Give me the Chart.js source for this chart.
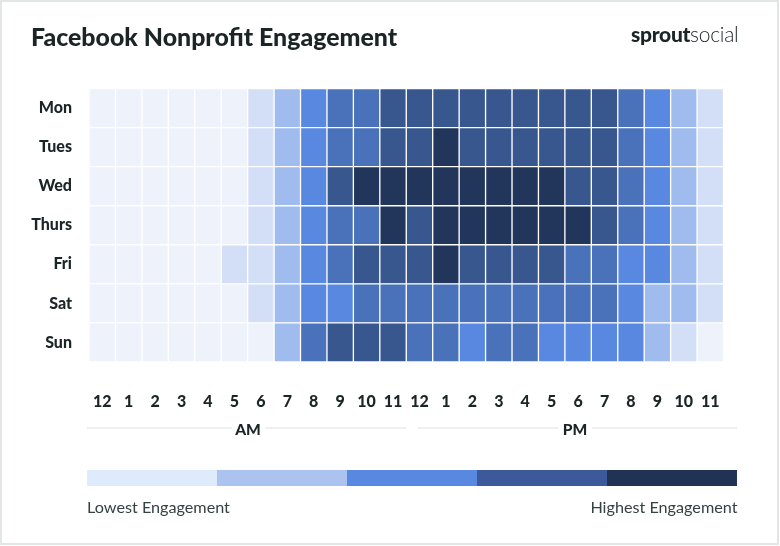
<!DOCTYPE html>
<html>
<head>
<meta charset="utf-8">
<title>Facebook Nonprofit Engagement</title>
<script src="https://cdn.jsdelivr.net/npm/chart.js@4/dist/chart.umd.min.js"></script>
<style>
  html, body { margin: 0; padding: 0; background: #fff; }
  body { width: 780px; height: 546px; position: relative; overflow: hidden; font-family: Lato, sans-serif; color: #1b2526; }
  #frame { position: absolute; left: 0; top: 0; width: 775px; height: 541px; border: 2.5px solid #e2e7e6; }
  canvas { position: absolute; left: 0; top: 0; }
  .txt { position: absolute; white-space: nowrap; }
  #title { left: 31px; top: 20px; font-size: 24.9px; font-weight: 900; line-height: 32px; }
  #logo { left: 631px; top: 22px; font-size: 21px; line-height: 24px; letter-spacing: -0.3px; }
  #logo b { font-weight: 900; }
  #logo span { font-weight: 300; }
  .rule { position: absolute; top: 427px; height: 2px; background: #eff0f1; }
  .half { top: 420px; font-size: 15.5px; font-weight: 900; line-height: 18px; transform: translateX(-50%); }
  #scale { position: absolute; left: 87px; top: 470px; width: 650.5px; height: 16px; display: flex; }
  #scale div { flex: 1; }
  .end { top: 497px; font-size: 16.2px; line-height: 19px; color: #364141; }
</style>
</head>
<body>
<div id="frame"></div>
<canvas id="heatmap" width="780" height="546"></canvas>
<div class="txt" id="title">Facebook Nonprofit Engagement</div>
<div class="txt" id="logo"><b>sprout</b><span>social</span></div>
<div class="rule" style="left:87px;width:145px"></div>
<div class="rule" style="left:265px;width:141px"></div>
<div class="rule" style="left:418px;width:140px"></div>
<div class="rule" style="left:592px;width:145px"></div>
<div class="txt half" style="left:248px">AM</div>
<div class="txt half" style="left:575px">PM</div>
<div id="scale"></div>
<div class="txt end" style="left:87px">Lowest Engagement</div>
<div class="txt end" style="right:42.5px">Highest Engagement</div>
<script>
const days = ['Mon', 'Tues', 'Wed', 'Thurs', 'Fri', 'Sat', 'Sun'];
const hours = ['12', '1', '2', '3', '4', '5', '6', '7', '8', '9', '10', '11',
               '12', '1', '2', '3', '4', '5', '6', '7', '8', '9', '10', '11'];

// engagement level per hour, 0 = lowest, 6 = highest
const mon   = [0,0,0,0,0,0,1,2,3,4,4,5,5,5,5,5,5,5,5,5,4,3,2,1];
const tues  = [0,0,0,0,0,0,1,2,3,4,4,5,5,6,5,5,5,5,5,5,4,3,2,1];
const wed   = [0,0,0,0,0,0,1,2,3,5,6,6,6,6,6,6,6,6,5,5,4,3,2,1];
const thurs = [0,0,0,0,0,0,1,2,3,4,4,6,5,6,6,6,6,6,6,5,4,3,2,1];
const fri   = [0,0,0,0,0,1,1,2,3,4,5,5,5,6,5,5,5,5,4,4,3,3,2,1];
const sat   = [0,0,0,0,0,0,1,2,3,3,4,4,4,4,4,4,4,4,4,4,3,2,2,1];
const sun   = [0,0,0,0,0,0,0,2,4,5,5,5,4,4,3,4,4,3,3,3,3,2,1,0];
const levels = [mon, tues, wed, thurs, fri, sat, sun];

const levelColors = ['#edf2fb', '#d3dff7', '#a0bbee', '#5888df', '#4a72ba', '#38578f', '#21365a'];
const scaleColors = ['#ddebfb', '#abc3ee', '#5888df', '#3c5a9a', '#213355'];

scaleColors.forEach(function (c) {
    const seg = document.createElement('div');
    seg.style.background = c;
    document.getElementById('scale').appendChild(seg);
});

// one stacked dataset per hour, every cell is one hour wide
const datasets = hours.map(function (h, i) {
    return {
        label: h,
        data: days.map(() => 1),
        backgroundColor: levels.map(row => levelColors[row[i]]),
        borderColor: '#ffffff',
        borderWidth: 1,
        borderSkipped: false,
        barPercentage: 1,
        categoryPercentage: 1
    };
});

const labelFont = { family: 'Lato, sans-serif', size: 16, weight: '900' };

new Chart(document.getElementById('heatmap').getContext('2d'), {
    type: 'bar',
    data: { labels: days, datasets: datasets },
    options: {
        indexAxis: 'y',
        responsive: false,
        animation: false,
        layout: { padding: { left: 0, top: 88.5, right: 56.5, bottom: 124 } },
        scales: {
            x: {
                stacked: true,
                min: 0,
                max: 24,
                grid: { display: false },
                border: { display: false },
                afterBuildTicks: function (scale) {
                    scale.ticks = hours.map((h, i) => ({ value: i + 0.5 }));
                },
                afterFit: function (scale) { scale.height = 60; },
                ticks: {
                    color: '#1b2526',
                    font: labelFont,
                    padding: 22,
                    maxRotation: 0,
                    autoSkip: false,
                    callback: (v, i) => hours[i]
                }
            },
            y: {
                stacked: true,
                grid: { display: false },
                border: { display: false },
                afterFit: function (scale) { scale.width = 89; },
                ticks: { color: '#1b2526', font: labelFont, padding: 9 }
            }
        },
        plugins: {
            legend: { display: false },
            tooltip: { enabled: false }
        }
    }
});
</script>
</body>
</html>
